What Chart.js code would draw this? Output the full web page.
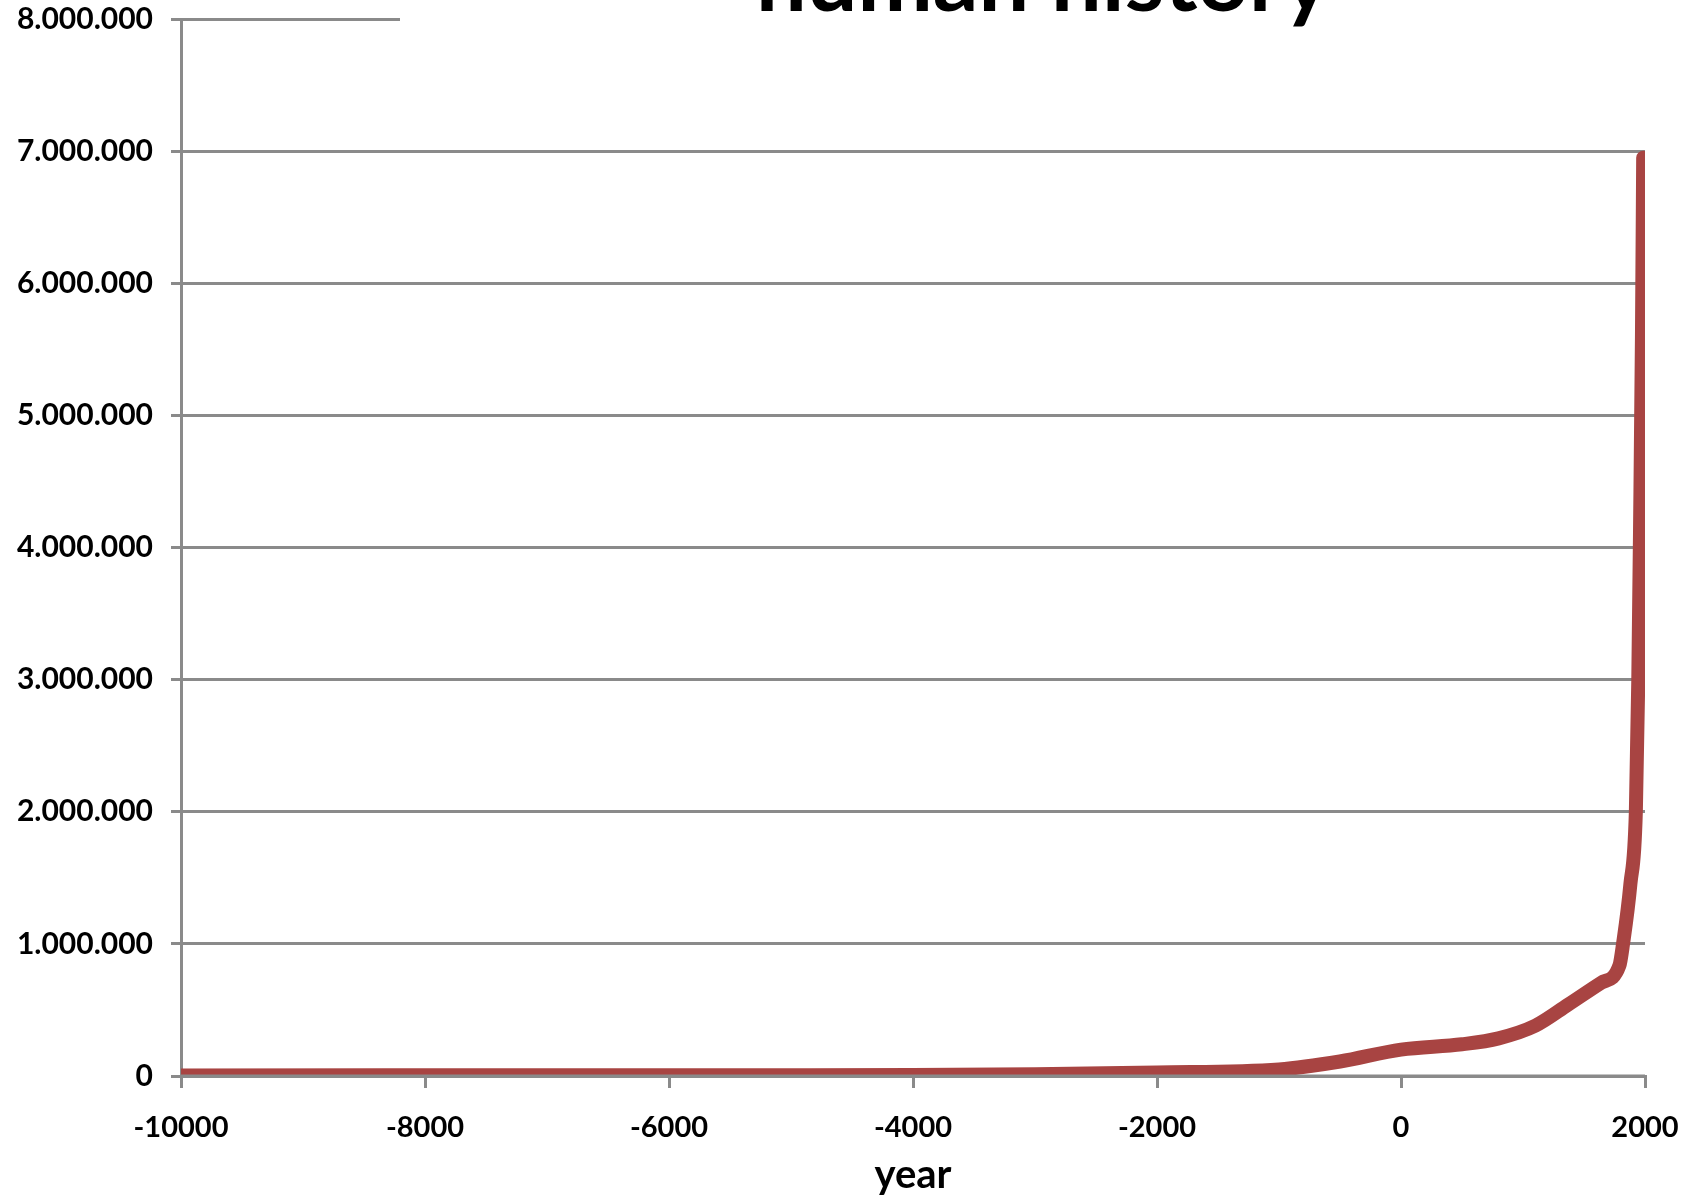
<!DOCTYPE html>
<html lang="en">

<head>
    <meta charset="UTF-8" />
    <title>human history</title>
    <script src="https://cdn.jsdelivr.net/npm/chart.js"></script>
    <style>
        html, body { margin: 0; padding: 0; background: #fff; }
        .janela { position: relative; width: 1686px; height: 1197px; overflow: hidden; }
        .titulo {
            position: absolute; left: 400px; top: 0; width: 1286px; height: 31px;
            background: #fff; overflow: hidden; z-index: 2;
        }
        .titulo span {
            position: absolute; left: 0; width: 1286px; top: -69px; text-align: center;
            font-family: Lato, sans-serif; font-weight: 700; font-size: 90px; line-height: 1; color: #000;
        }
    </style>
</head>

<body>
    <div class="janela">
        <div class="titulo"><span>human history</span></div>
        <canvas id="myChart"></canvas>
    </div>
</body>

</html>
<script>
    // year and population (thousands)
    var years = [-10000, -8000, -6500, -5000, -4000, -3000, -2000, -1000, -500, 0, 500, 800, 1100, 1370, 1640, 1790, 1820, 1880, 1925, 1945, 1960, 1975, 1985];
    var population = [4000, 5000, 5000, 5000, 7000, 14000, 27000, 50000, 110000, 200000, 240000, 285000, 380000, 540000, 705000, 835000, 1000000, 1450000, 2000000, 3000000, 4200000, 5600000, 6950000];
    var xTicks = [-10000, -8000, -6000, -4000, -2000, 0, 2000];
    var yTicks = [0, 1000000, 2000000, 3000000, 4000000, 5000000, 6000000, 7000000, 8000000];

    var cinza = "#8a8a8a";
    var vermelho = "#a84442";

    var pontos = [];
    for (var i = 0; i < years.length; i++) {
        pontos.push({ x: years[i], y: population[i] });
    }

    function comPontos(v) {
        return String(v).replace(/\B(?=(\d{3})+(?!\d))/g, ".");
    }

    // redraw the x axis line over the data, like the original
    var eixoPorCima = {
        id: "eixoPorCima",
        afterDatasetsDraw: function (chart) {
            var ctx = chart.ctx;
            var y0 = chart.scales.y.getPixelForValue(0);
            ctx.save();
            ctx.strokeStyle = cinza;
            ctx.lineWidth = 3;
            ctx.beginPath();
            ctx.moveTo(chart.chartArea.left, y0);
            ctx.lineTo(chart.chartArea.right, y0);
            ctx.stroke();
            ctx.restore();
        }
    };

    const ctx = document.getElementById("myChart");
    new Chart(ctx, {
        type: "line",
        data: {
            datasets: [
                {
                    label: "population",
                    data: pontos,
                    borderColor: vermelho,
                    borderWidth: 14,
                    borderCapStyle: "round",
                    borderJoinStyle: "round",
                    pointRadius: 0,
                    fill: false,
                    cubicInterpolationMode: "monotone",
                },
            ],
        },
        options: {
            responsive: true,
            maintainAspectRatio: false,
            devicePixelRatio: 1,
            animation: false,
            layout: { autoPadding: false, padding: { top: 19, right: 41, bottom: 0, left: 0 } },
            plugins: { legend: { display: false }, tooltip: { enabled: false } },
            scales: {
                x: {
                    type: "linear",
                    min: xTicks[0],
                    max: xTicks[xTicks.length - 1],
                    afterBuildTicks: function (scale) {
                        scale.ticks = xTicks.map(function (v) { return { value: v }; });
                    },
                    afterFit: function (scale) {
                        scale.height = 121;
                        scale.paddingLeft = 0;
                        scale.paddingRight = 0;
                    },
                    grid: { drawOnChartArea: false, drawTicks: true, tickLength: 12, color: cinza, lineWidth: 3 },
                    border: { color: cinza, width: 3 },
                    ticks: {
                        color: "#000",
                        padding: 22,
                        maxRotation: 0,
                        font: { family: "Lato", weight: "bold", size: 29 },
                        callback: function (v) { return String(v); },
                    },
                    title: {
                        display: true,
                        text: "year",
                        color: "#000",
                        font: { family: "Lato", weight: "bold", size: 40 },
                        padding: { top: 0, bottom: -2 },
                    },
                },
                y: {
                    min: yTicks[0],
                    max: yTicks[yTicks.length - 1],
                    afterBuildTicks: function (scale) {
                        scale.ticks = yTicks.map(function (v) { return { value: v }; });
                    },
                    afterFit: function (scale) {
                        scale.width = 181;
                        scale.paddingTop = 0;
                        scale.paddingBottom = 0;
                    },
                    grid: { drawTicks: true, tickLength: 10, color: cinza, lineWidth: 3 },
                    border: { color: cinza, width: 3 },
                    ticks: {
                        color: "#000",
                        padding: 18,
                        font: { family: "Lato", weight: "bold", size: 30 },
                        callback: function (v) { return comPontos(v); },
                    },
                },
            },
        },
        plugins: [eixoPorCima],
    });
</script>
